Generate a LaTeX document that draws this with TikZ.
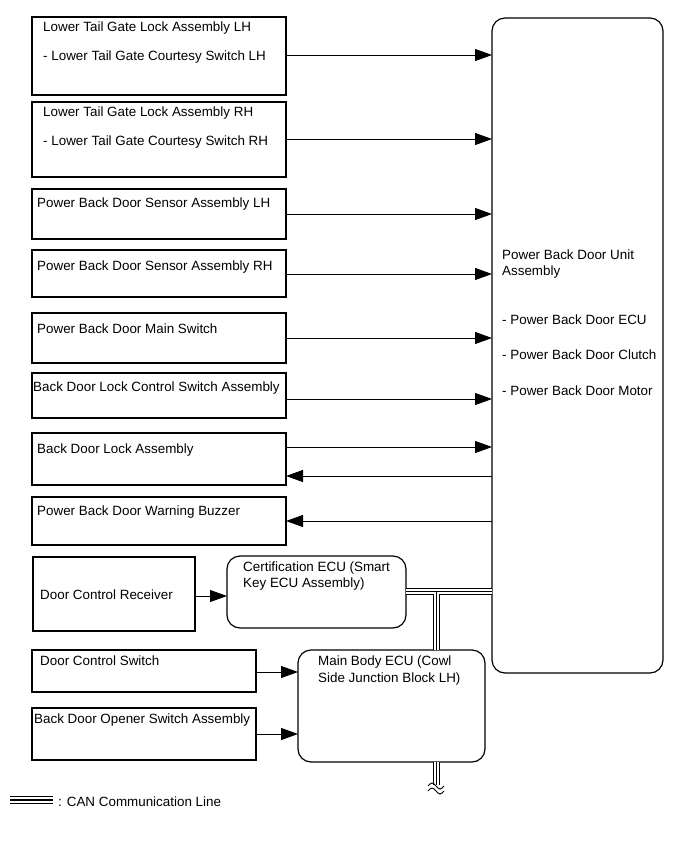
\documentclass[tikz,border=0pt]{standalone}
\usepackage{fontspec}
\setmainfont{Liberation Sans}
\usetikzlibrary{arrows.meta}
\newcommand{\fsz}{\fontsize{13.4}{16}\selectfont}
\begin{document}
\begin{tikzpicture}[x=1pt,y=-1pt,
  box/.style={draw, line width=1.2pt, inner sep=0pt, outer sep=0pt, anchor=north west},
  rbox/.style={box, rounded corners=13pt},
  lbl/.style={anchor=west, inner sep=0pt, font=\fsz},
  arr/.style={line width=0.9pt, -{Triangle[length=17pt,width=12pt]}},
  canA/.style={line width=7pt},
  canB/.style={white, line width=5pt},
  canC/.style={line width=0.9pt},
  legA/.style={line width=8pt},
  legB/.style={white, line width=6pt},
  legC/.style={line width=1.2pt},
  wave/.style={line width=0.9pt}
]
\useasboundingbox (0,0) rectangle (690,854);

% left boxes
\node[box, minimum width=254pt, minimum height=78pt] (b1) at (32,17) {};
\node[box, minimum width=254pt, minimum height=75pt] (b2) at (32,102) {};
\node[box, minimum width=254pt, minimum height=50pt] (b3) at (32,189) {};
\node[box, minimum width=254pt, minimum height=47pt] (b4) at (32,250) {};
\node[box, minimum width=254pt, minimum height=50pt] (b5) at (32,313) {};
\node[box, minimum width=254pt, minimum height=45pt] (b6) at (32,373) {};
\node[box, minimum width=254pt, minimum height=52pt] (b7) at (32,433) {};
\node[box, minimum width=254pt, minimum height=48pt] (b8) at (32,497) {};
\node[box, minimum width=162pt, minimum height=74pt] (b9) at (33,557) {};
\node[rbox, minimum width=179pt, minimum height=72pt] (cert) at (227,556) {};
\node[box, minimum width=224pt, minimum height=42pt] (b11) at (32,650) {};
\node[box, minimum width=224pt, minimum height=52pt] (b12) at (32,708) {};
\node[rbox, minimum width=187pt, minimum height=112pt] (mbe) at (298,650) {};
\node[rbox, minimum width=171pt, minimum height=655pt] (pbd) at (492,18) {};

% texts
\node[lbl] (t1a) at (43,28) {Lower Tail Gate Lock Assembly LH};
\node[lbl] (t1b) at (43,57) {- Lower Tail Gate Courtesy Switch LH};
\node[lbl] (t2a) at (43,113) {Lower Tail Gate Lock Assembly RH};
\node[lbl] (t2b) at (43,142) {- Lower Tail Gate Courtesy Switch RH};
\node[lbl] (t3) at (37,204) {Power Back Door Sensor Assembly LH};
\node[lbl] (t4) at (37,267) {Power Back Door Sensor Assembly RH};
\node[lbl] (t5) at (37,329) {Power Back Door Main Switch};
\node[lbl] (t6) at (33,388) {Back Door Lock Control Switch Assembly};
\node[lbl] (t7) at (37,450) {Back Door Lock Assembly};
\node[lbl] (t8) at (37,512) {Power Back Door Warning Buzzer};
\node[lbl] (t9) at (40,595) {Door Control Receiver};
\node[lbl] (t10a) at (243,568) {Certification ECU (Smart};
\node[lbl] (t10b) at (243,584) {Key ECU Assembly)};
\node[lbl] (t11) at (40,661) {Door Control Switch};
\node[lbl] (t12) at (34,720) {Back Door Opener Switch Assembly};
\node[lbl] (t13a) at (318,662) {Main Body ECU (Cowl};
\node[lbl] (t13b) at (318,679) {Side Junction Block LH)};
\node[lbl] (t14a) at (502,255) {Power Back Door Unit};
\node[lbl] (t14b) at (502,272) {Assembly};
\node[lbl] (t14c) at (502,320) {- Power Back Door ECU};
\node[lbl] (t14d) at (502,355) {- Power Back Door Clutch};
\node[lbl] (t14e) at (502,391) {- Power Back Door Motor};

% arrows to unit
\draw[arr] (b1.east |- 0,55) -- (pbd.west |- 0,55);
\draw[arr] (b2.east |- 0,139) -- (pbd.west |- 0,139);
\draw[arr] (b3.east |- 0,214) -- (pbd.west |- 0,214);
\draw[arr] (b4.east |- 0,274) -- (pbd.west |- 0,274);
\draw[arr] (b5.east |- 0,338) -- (pbd.west |- 0,338);
\draw[arr] (b6.east |- 0,399) -- (pbd.west |- 0,399);
\draw[arr] (b7.east |- 0,447) -- (pbd.west |- 0,447);
\draw[arr] (pbd.west |- 0,476) -- (b7.east |- 0,476);
\draw[arr] (pbd.west |- 0,521) -- (b8.east |- 0,521);
\draw[arr] (b9.east |- 0,596) -- (cert.west |- 0,596);
\draw[arr] (b11.east |- 0,672) -- (mbe.west |- 0,672);
\draw[arr] (b12.east |- 0,734) -- (mbe.west |- 0,734);

% CAN lines
\coordinate (tj) at (436,591);
\coordinate (cb) at (436,785);
\coordinate (lg1) at (10,800);
\coordinate (lg2) at (53,800);
\foreach \s in {canA,canB,canC}{
  \draw[\s] (cert.east |- tj) -- (pbd.west |- tj);
  \draw[\s] (tj) -- (tj |- mbe.north);
  \draw[\s] (tj |- mbe.south) -- (cb);
}
\foreach \s in {legA,legB,legC}{
  \draw[\s] (lg1) -- (lg2);
}
\draw[wave] (428,786) sin (432,783) cos (436,786) sin (440,789) cos (444,786);
\draw[wave] (428,791) sin (432,788) cos (436,791) sin (440,794) cos (444,791);
\node[lbl] (lgt) at (58,802) {: CAN Communication Line};
\end{tikzpicture}
\end{document}
